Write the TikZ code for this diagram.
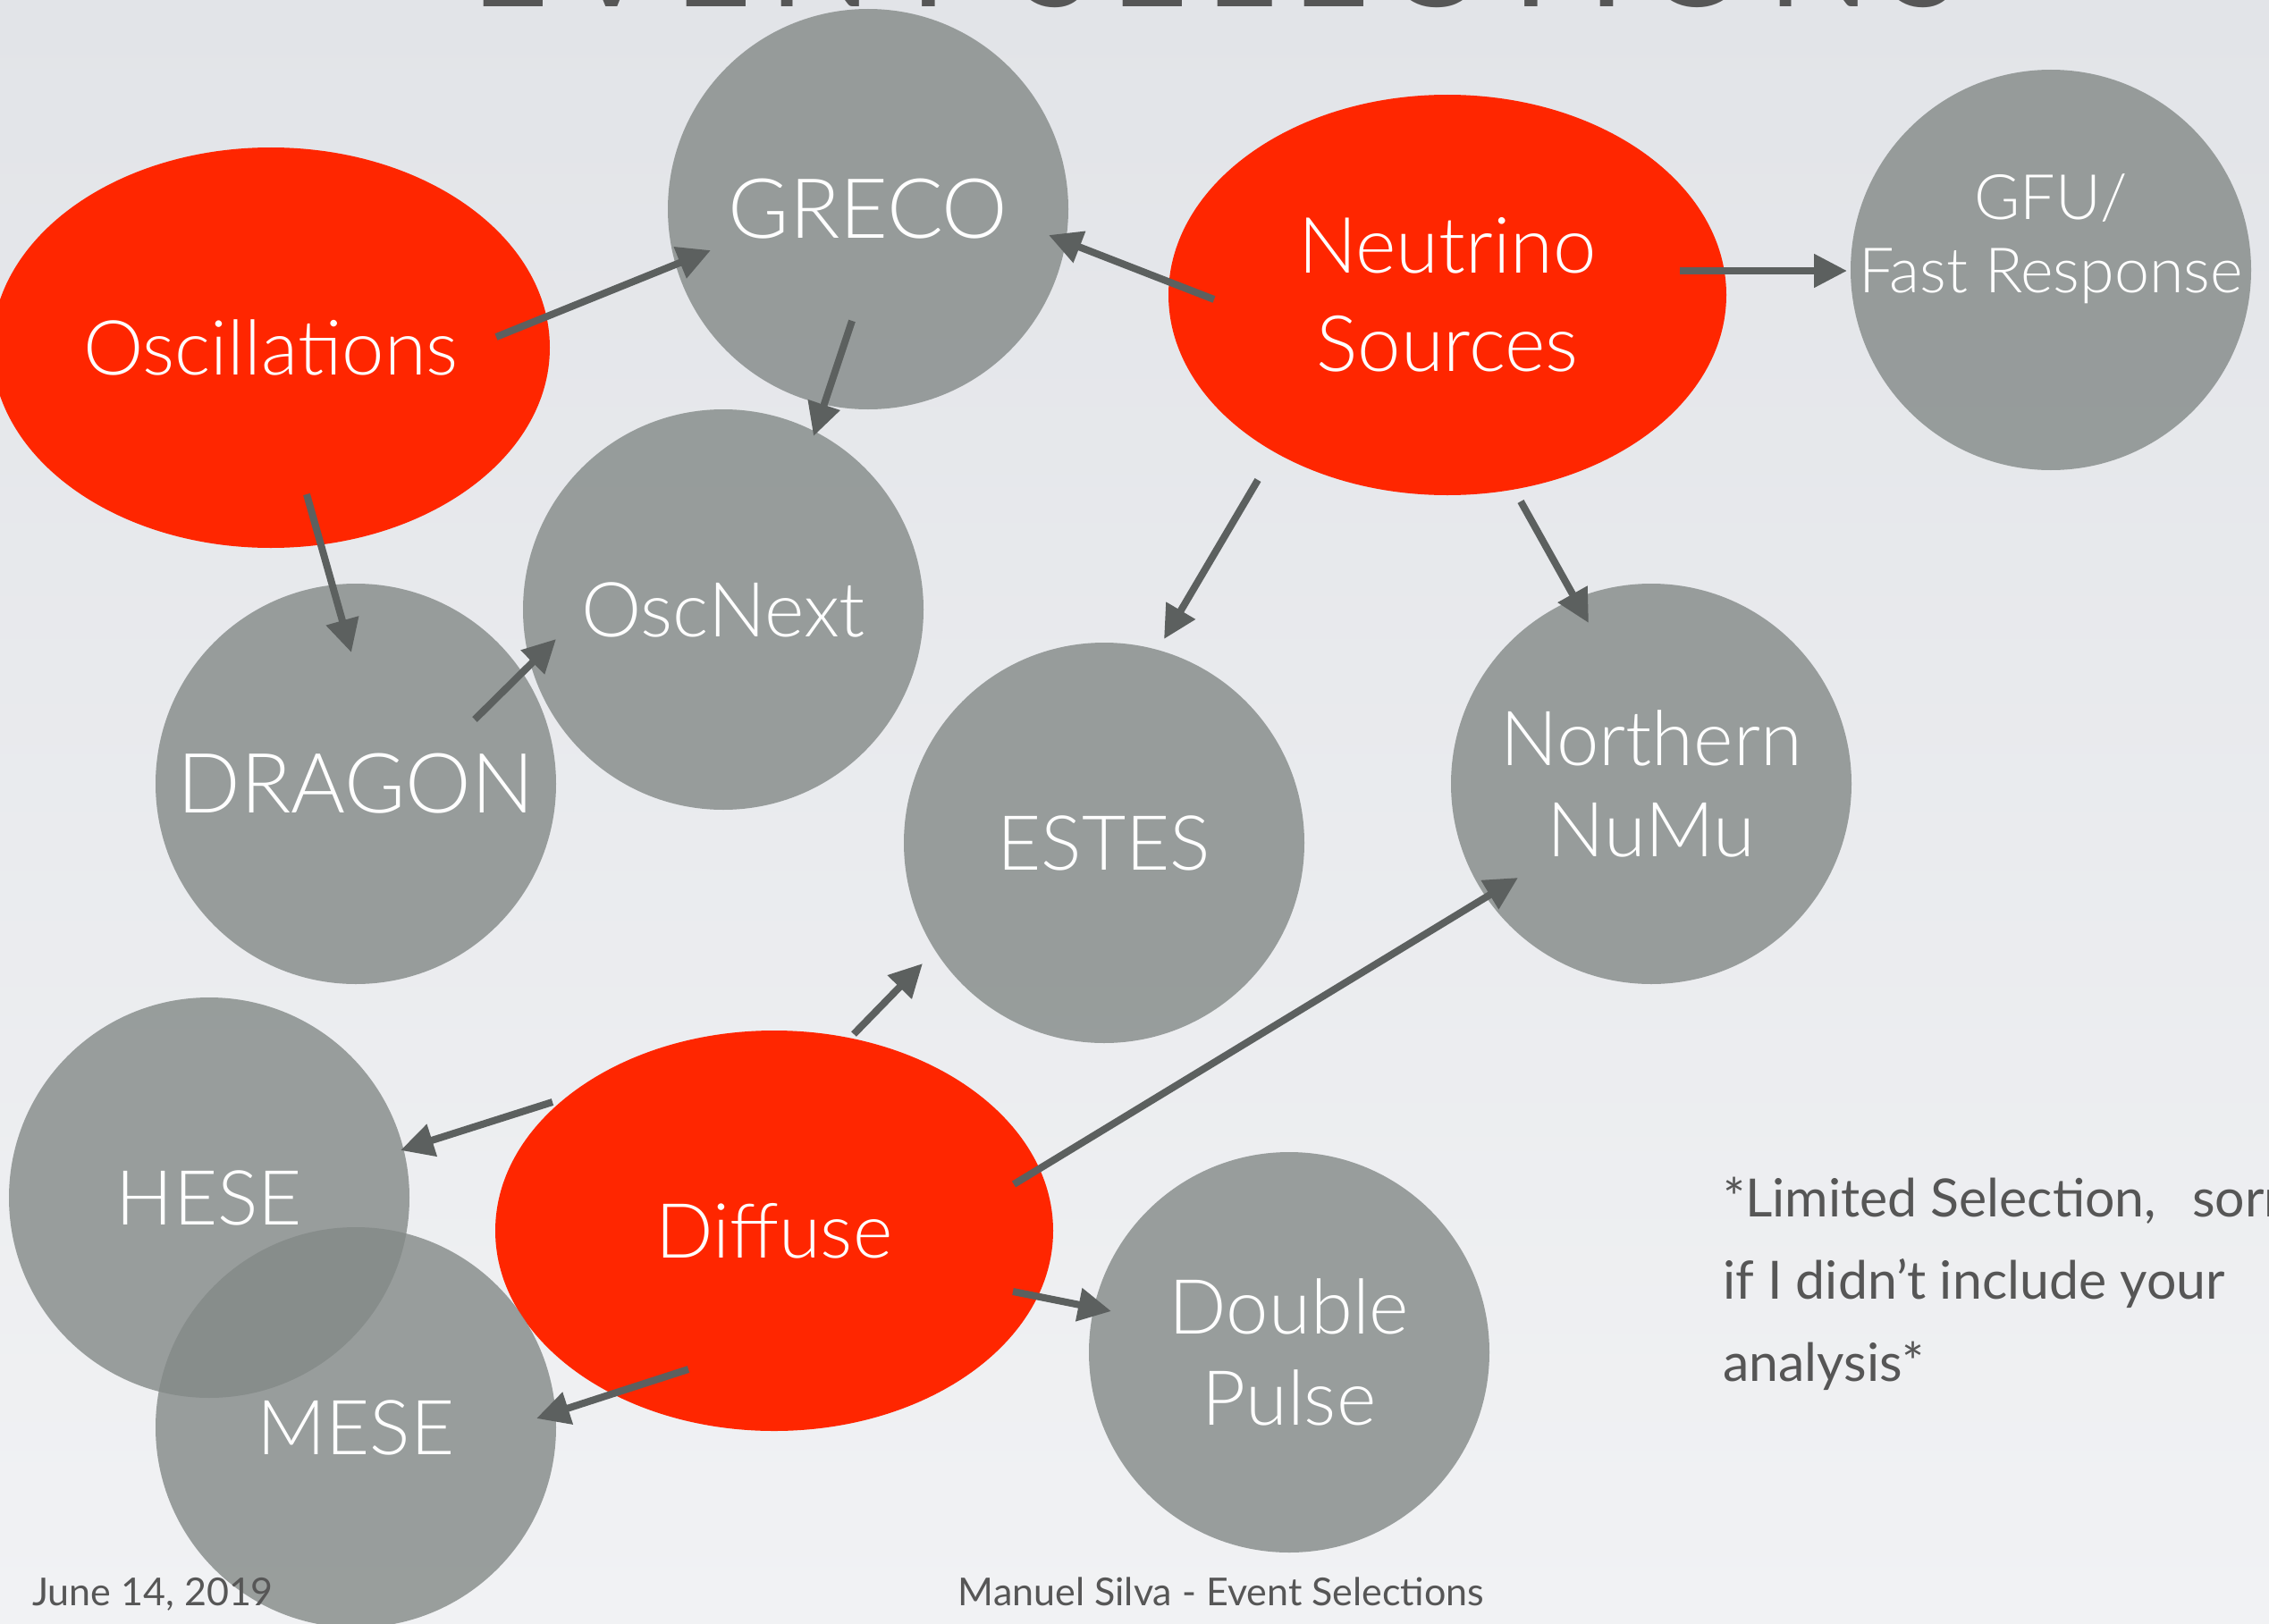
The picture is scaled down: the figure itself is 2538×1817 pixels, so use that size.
\documentclass[tikz,border=0pt]{standalone}
\usepackage{fontspec}
\setmainfont{Lato}
\newfontfamily\thinfont{Lato Light}
\usetikzlibrary{shapes.geometric,arrows.meta,calc}

\definecolor{bgtop}{RGB}{226,228,232}
\definecolor{bgbot}{RGB}{241,242,244}
\definecolor{keyred}{RGB}{255,38,0}
\definecolor{disc}{RGB}{131,137,135}
\definecolor{arrowgrey}{RGB}{92,96,95}
\definecolor{inkgrey}{RGB}{86,86,86}

\newcommand\labelfont{\thinfont\fontsize{85}{102}\selectfont}
\newcommand\widelabelfont{\thinfont\fontsize{93}{102}\selectfont}
\newcommand\smalllabelfont{\thinfont\fontsize{70}{82}\selectfont}
\newcommand\notefont{\fontsize{59}{92}\selectfont}
\newcommand\footfont{\fontsize{43}{52}\selectfont}
\newcommand\titlefont{\addfontfeature{LetterSpace=13}\fontsize{150}{150}\selectfont}

\begin{document}
\begin{tikzpicture}[x=1pt,y=-1pt,
  redblob/.style={ellipse, fill=keyred, minimum width=624pt, minimum height=448pt,
    inner sep=0pt, text=white, align=center, font=\labelfont},
  greydisc/.style={circle, fill=disc, fill opacity=0.8, text opacity=1,
    minimum size=448pt, inner sep=0pt, text=white, align=center, font=\labelfont},
  link/.style={draw=arrowgrey, line width=8pt, -{Triangle[length=37pt,width=36pt]}},
  ink/.style={text=inkgrey, inner sep=0pt},
]
\useasboundingbox (0,0) rectangle (2538,1817);
\clip (0,0) rectangle (2538,1817);
\shade[top color=bgtop, bottom color=bgbot] (0,0) rectangle (2538,1817);

% heading
\node[ink, anchor=base, font=\titlefont] (title) at (1360,8) {EVENT SELECTIONS};

% analysis groups
\node[redblob] (osc) at (303,389) {Oscillations};
\node[redblob, font=\thinfont\fontsize{87}{102}\selectfont] (ns) at (1619,330) {Neutrino\\[8pt]Sources};
\node[redblob] (diffuse) at (866,1377) {Diffuse};

% event selections
\node[greydisc, font=\widelabelfont] (greco) at (971,234) {GRECO};
\node[greydisc] (gfu) at (2294,302) {};
\node[text=white, align=center, font=\smalllabelfont, inner sep=0pt] (gfutext) at (2294,267) {GFU/\\Fast Response};
\node[greydisc] (oscnext) at (809,682) {OscNext};
\node[greydisc, font=\widelabelfont] (dragon) at (398,877) {DRAGON};
\node[greydisc] (estes) at (1235,943) {ESTES};
\node[greydisc] (numu) at (1847,877) {Northern\\NuMu};
\node[greydisc] (hese) at (234,1340) {HESE};
\node[greydisc] (mese) at (398,1597) {MESE};
\node[greydisc] (dp) at (1442,1513) {Double\\Pulse};

% connections
\draw[link] ($(osc)+(252,-12)$) -- ($(greco)+(-176,46)$);
\draw[link] ($(ns)+(-261,5)$) -- ($(greco)+(202,29)$);
\draw[link] ($(greco)+(-18,125)$) -- ($(oscnext)+(101,-194)$);
\draw[link] ($(osc)+(40,164)$) -- ($(dragon)+(-5,-147)$);
\draw[link] ($(dragon)+(133,-72)$) -- ($(oscnext)+(-187,33)$);
\draw[link] ($(ns)+(-212,207)$) -- ($(estes)+(67,-228)$);
\draw[link] ($(ns)+(82,231)$) -- ($(numu)+(-70,-180)$);
\draw[link] ($(ns)+(260,-27)$) -- ($(gfu)+(-228,1)$);
\draw[link] ($(diffuse)+(89,-220)$) -- ($(estes)+(-203,135)$);
\draw[link] ($(diffuse)+(268,-52)$) -- ($(numu)+(-149,105)$);
\draw[link] ($(diffuse)+(267,68)$) -- ($(dp)+(-199,-46)$);
\draw[link] ($(diffuse)+(-248,-144)$) -- ($(hese)+(214,-53)$);
\draw[link] ($(diffuse)+(-96,155)$) -- ($(mese)+(202,-10)$);

% side note
\node[ink, anchor=base west, font=\notefont] (note1) at (1927,1361) {*Limited Selection,\hspace{40pt}sorry};
\node[ink, anchor=base west, font=\notefont] (note2) at (1927,1453) {if I didn’t include your};
\node[ink, anchor=base west, font=\notefont] (note3) at (1927,1545) {analysis*};

% footer
\node[ink, anchor=base west, font=\footfont] (date) at (36,1796) {June 14, 2019};
\node[ink, anchor=base, font=\footfont] (footer) at (1366,1796) {Manuel Silva - Event Selections};
\end{tikzpicture}
\end{document}
